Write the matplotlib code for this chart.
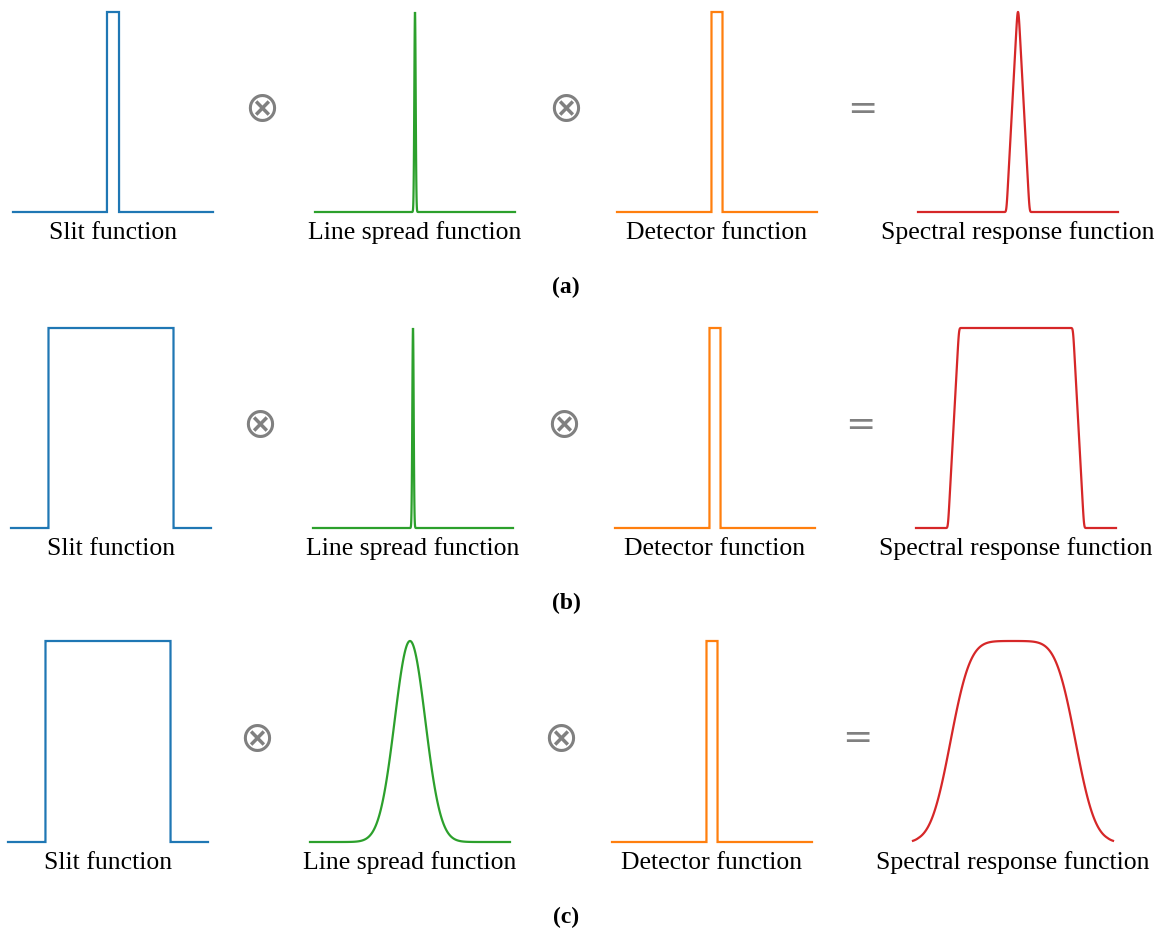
import numpy as np
import matplotlib.pyplot as plt

plt.rcParams['path.simplify'] = False

# Panel parameters for the three cases (wavelength units, panel spans -50..50)
case_tags = ['(a)', '(b)', '(c)']
slit_width = [6.0, 62.5, 62.5]
lsf_fwhm = [0.8, 0.8, 18.0]
detector_width = [5.5, 5.5, 5.5]

panel_titles = ['Slit function', 'Line spread function', 'Detector function',
                'Spectral response function']
panel_colors = ['#1f77b4', '#2ca02c', '#ff7f0e', '#d62728']
operators = ['\u2297', '\u2297', '=']
op_sizes = [30, 30, 26]

W, H = 1164, 933
fig = plt.figure(figsize=(W / 100, H / 100), dpi=100)

# pixel layout
panel_left = [13, 315, 617, 918]
op_x = [262, 566, 862]
row_shift = [0, -2, -5]
row_top = [12, 328, 641]
row_base = [212, 528, 842]
panel_w = 200

dx = 0.025
x = np.arange(-2000, 2001) * dx


def rect(w):
    return (np.abs(x) <= w / 2).astype(float)


def gauss(fwhm):
    s = fwhm / 2.3548
    return np.exp(-0.5 * (x / s) ** 2)


for r in range(3):
    slit = rect(slit_width[r])
    lsf = gauss(lsf_fwhm[r])
    det = rect(detector_width[r])
    srf = np.convolve(np.convolve(slit, lsf, mode='same'), det, mode='same')
    curves = [slit, lsf / lsf.max(), det, srf / srf.max()]

    top, base = row_top[r], row_base[r]
    for p in range(4):
        left = panel_left[p] + row_shift[r]
        ax = fig.add_axes([left / W, 1 - base / H, panel_w / W, (base - top) / H])
        ax.plot(x, curves[p], color=panel_colors[p], lw=1.6, clip_on=False,
                solid_joinstyle='miter')
        ax.set_xlim(x[0], x[-1])
        ax.set_ylim(0, 1)
        ax.axis('off')
        fig.text((left + panel_w / 2) / W, 1 - (base + 21) / H, panel_titles[p],
                 ha='center', va='center', fontsize=18.5,
                 family='Liberation Serif')

    mid = (top + base) / 2 - 3
    for k, op in enumerate(operators):
        fig.text((op_x[k] + row_shift[r]) / W, 1 - mid / H, op,
                 ha='center', va='center', fontsize=op_sizes[k],
                 color='#808080', family='DejaVu Sans')

    fig.text(566 / W, 1 - (base + 75) / H, case_tags[r], ha='center',
             va='center', fontsize=17, fontweight='bold',
             family='Liberation Serif')

fig.savefig('out.png', dpi=100)
